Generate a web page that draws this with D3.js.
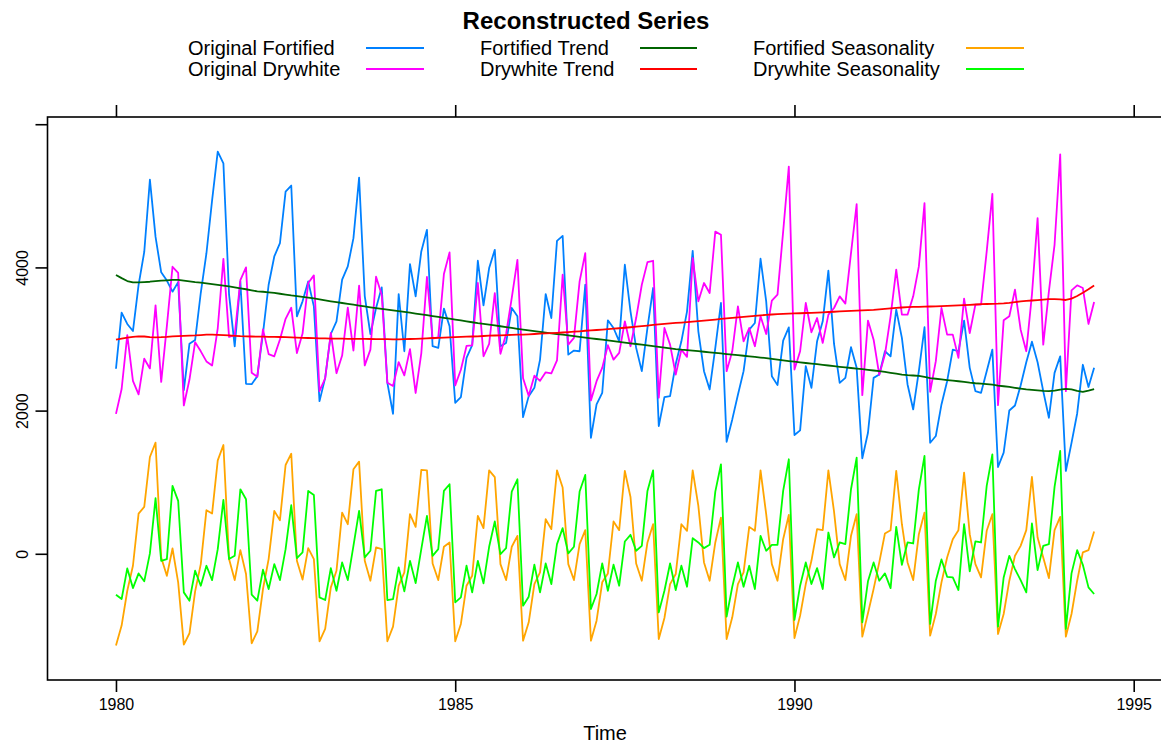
<!DOCTYPE html>
<html><head><meta charset="utf-8">
<script src="https://cdn.jsdelivr.net/npm/d3@7"></script>
<style>
body{margin:0;background:#fff}
svg{display:block}
text{font-family:"Liberation Sans",Arial,Helvetica,sans-serif;fill:#000}
</style>
</head><body>
<svg id="chart" width="1161" height="744"></svg>
<script>
// ---------------- data ----------------
const startYear = 1980;            // Jan 1980, monthly
const title = "Reconstructed Series";
const xLabel = "Time";
const xTickValues = [1980, 1985, 1990, 1995];
const yTickValues = [0, 2000, 4000, 6000];
const yTickLabels = ["0", "2000", "4000", ""];

const fortified = [
 2585,3368,3210,3111,3756,4216,5225,4426,3932,3816,3661,3795,
 2285,2934,2985,3646,4198,4935,5618,5454,3624,2898,3802,2374,
 2369,2481,3079,3758,4153,4339,5059,5143,3317,3526,3805,3456,
 2132,2457,3070,3247,3828,4014,4409,5254,3600,3070,3433,3721,
 2388,1956,3628,2829,4046,3596,4223,4525,2899,2876,3424,3178,
 2109,2188,2736,2913,4093,3470,3991,4246,2899,2945,3433,3317,
 1909,2202,2318,2713,3628,3293,4371,4441,2782,2838,2829,3758,
 1621,2086,2249,3261,3154,2968,4037,3387,2876,2551,3154,3712,
 1784,2188,2202,2650,2968,3387,4232,3108,2551,2295,2876,3503,
 1565,1877,2221,2551,3131,3224,4121,3526,2481,2356,2977,3163,
 1659,1724,2621,2318,2968,3247,3954,2931,2388,2457,2885,2597,
 1334,1691,2457,2504,2829,2758,3410,3015,2365,2016,2551,3164,
 1551,1645,2086,2411,2852,2829,3257,2597,2272,2249,2551,2852,
 1212,1412,2002,2071,2350,2675,2963,2675,2272,1900,2527,2758,
 1157,1550,1960,2640,2330,2597
];
const drywhite = [
 1954,2302,3054,2414,2226,2725,2589,3470,2400,3180,4009,3924,
 2072,2434,2956,2828,2687,2629,3150,4119,3030,3055,3821,4001,
 2529,2472,3134,2789,2758,2993,3282,3437,2804,3076,3782,3889,
 2271,2452,3084,2522,2769,3438,2839,3746,2632,2851,3871,3618,
 2389,2344,2678,2492,2858,2246,2800,3869,3007,3023,3907,4209,
 2353,2570,2903,2910,3782,2759,2931,3641,2794,3070,3576,4106,
 2452,2206,2488,2416,2534,2521,2700,3898,2922,3015,3805,4200,
 2142,2411,2597,2913,2713,2806,3247,2899,3293,3758,4074,4093,
 2179,3154,2922,2504,2850,2750,4130,3526,3782,3642,4500,4455,
 2551,2829,3456,2968,3154,2899,3317,3070,3535,3619,4500,5408,
 2574,2829,3503,3094,3293,2945,3340,3433,3596,3494,4200,4883,
 2216,3257,2991,2500,2782,3317,3968,3340,3340,3596,4014,4897,
 2262,2690,3433,3061,3061,2736,3563,3084,3480,3480,4223,5027,
 2076,3261,3317,3689,3131,2829,3619,4688,2922,3666,4316,5580,
 2272,3680,3750,3712,3210,3517
];
const fortifiedTrend = [
 3895,3850,3810,3790,3790,3795,3800,3808,3814,3820,3825,3825,
 3815,3805,3795,3787,3778,3768,3757,3746,3735,3722,3708,3695,
 3680,3666,3660,3652,3643,3632,3620,3608,3598,3588,3578,3566,
 3553,3540,3527,3515,3503,3491,3479,3467,3455,3443,3432,3421,
 3410,3399,3388,3378,3367,3356,3344,3332,3320,3308,3296,3284,
 3272,3259,3246,3234,3222,3212,3202,3190,3178,3166,3154,3142,
 3131,3120,3110,3100,3090,3080,3070,3060,3050,3040,3030,3020,
 3010,3000,2990,2980,2970,2960,2950,2940,2930,2920,2910,2900,
 2890,2880,2870,2860,2852,2846,2838,2830,2822,2814,2806,2798,
 2790,2782,2774,2766,2758,2750,2741,2732,2722,2712,2702,2692,
 2683,2674,2665,2657,2648,2639,2630,2621,2612,2604,2595,2587,
 2578,2569,2560,2551,2540,2528,2515,2503,2495,2490,2485,2470,
 2455,2445,2436,2427,2419,2410,2400,2390,2382,2376,2370,2362,
 2350,2340,2330,2318,2307,2296,2289,2282,2275,2272,2280,2292,
 2303,2296,2275,2262,2280,2300
];
const drywhiteTrend = [
 2990,3005,3018,3030,3038,3035,3027,3024,3026,3030,3036,3040,
 3044,3047,3050,3055,3060,3061,3058,3054,3050,3045,3040,3037,
 3035,3034,3032,3030,3029,3028,3026,3024,3020,3016,3014,3012,
 3010,3008,3006,3005,3004,3003,3002,3001,3001,3000,2999,2998,
 2997,2996,2996,2998,3000,3003,3006,3010,3014,3017,3020,3023,
 3026,3029,3032,3035,3038,3042,3046,3049,3052,3055,3058,3060,
 3062,3066,3070,3074,3078,3082,3086,3091,3096,3102,3108,3115,
 3120,3126,3132,3138,3144,3150,3157,3164,3172,3180,3188,3196,
 3204,3211,3218,3224,3230,3236,3243,3250,3257,3265,3272,3280,
 3288,3296,3303,3310,3317,3324,3330,3336,3342,3347,3351,3354,
 3357,3360,3363,3366,3369,3373,3377,3381,3385,3389,3393,3397,
 3400,3404,3408,3414,3420,3427,3434,3440,3445,3448,3450,3452,
 3454,3456,3459,3462,3465,3469,3473,3478,3482,3486,3489,3492,
 3494,3498,3505,3515,3525,3532,3538,3544,3550,3556,3558,3554,
 3545,3565,3600,3645,3695,3748
];
const fortifiedSeasonality = [
 -1280,-1003,-516,-167,562,655,1352,1552,-51,-307,74,-399,
 -1268,-1110,-525,-144,609,562,1305,1519,-74,-367,51,-283,
 -1250,-1083,-492,-74,599,469,1240,1398,-98,-360,80,-74,
 -1222,-1050,-469,-237,576,413,1180,1287,-98,-376,88,65,
 -1222,-1017,-446,-260,553,376,1171,1166,-135,-367,98,158,
 -1222,-980,-446,-307,530,358,1166,1070,-144,-367,98,251,
 -1213,-957,-423,-260,483,344,1166,925,-144,-367,135,330,
 -1213,-934,-399,-274,451,330,1157,794,-135,-376,158,413,
 -1190,-897,-423,-283,413,321,1166,669,-121,-376,158,506,
 -1190,-887,-423,-260,376,321,1166,553,-144,-376,204,544,
 -1176,-864,-423,-98,344,330,1166,590,-144,-367,251,553,
 -1157,-831,-490,-120,283,330,1157,413,-121,-367,274,576,
 -1143,-841,-399,-51,204,330,1134,274,-144,-330,321,553,
 -1120,-841,-376,-28,111,330,1073,228,-51,-339,330,516,
 -1157,-841,-376,19,51,311
];
const drywhiteSeasonality = [
 -571,-632,-204,-479,-274,-385,5,776,-98,-74,948,739,
 -539,-655,-237,-446,-167,-367,65,753,-74,-28,901,762,
 -571,-655,-223,-492,-144,-367,65,678,-60,19,878,822,
 -609,-646,-200,-516,-121,-367,111,599,-51,42,878,901,
 -646,-632,-190,-525,-98,-409,65,530,-28,65,878,971,
 -678,-609,-167,-539,-98,-413,98,451,-5,79,869,1041,
 -725,-599,-153,-539,-135,-423,135,358,5,98,869,1101,
 -771,-562,-135,-516,-153,-446,172,265,42,111,878,1166,
 -818,-516,-135,-506,-167,-460,218,158,79,125,869,1250,
 -878,-460,-121,-460,-167,-492,251,42,125,125,878,1320,
 -924,-446,-121,-423,-200,-492,297,-51,158,135,901,1343,
 -957,-385,-121,-376,-274,-479,376,-153,158,144,901,1366,
 -980,-376,-79,-321,-330,-506,413,-246,172,158,948,1389,
 -1017,-330,-28,-214,-367,-539,423,-228,111,135,934,1436,
 -1050,-274,51,-153,-469,-562
];
const seriesNames = ["Original Fortified","Original Drywhite","Fortified Trend",
                     "Drywhite Trend","Fortified Seasonality","Drywhite Seasonality"];
const seriesValues = [fortified, drywhite, fortifiedTrend, drywhiteTrend,
                      fortifiedSeasonality, drywhiteSeasonality];

// ---------------- style / layout ----------------
const colors = ["#0080ff","#ff00ff","#006400","#ff0000","#ffa500","#00ff00"];
const W = 1161, H = 744;
const panel = {left: 47.5, right: 1162.6, top: 117, bottom: 680};
const lw = 1.8;

const svg = d3.select("#chart");
svg.append("rect").attr("width", W).attr("height", H).attr("fill", "#fff");

const n = fortified.length;
const times = d3.range(n).map(i => startYear + i / 12);
const xExt = d3.extent(times);
const xPad = 0.07 * (xExt[1] - xExt[0]);
const x = d3.scaleLinear().domain([xExt[0] - xPad, xExt[1] + xPad])
  .range([panel.left, panel.right]);
const allVals = seriesValues.flat();
const yExt = d3.extent(allVals);
const yPad = 0.07 * (yExt[1] - yExt[0]);
const y = d3.scaleLinear().domain([yExt[0] - yPad, yExt[1] + yPad])
  .range([panel.bottom, panel.top]);

// clip
svg.append("clipPath").attr("id","clip").append("rect")
  .attr("x", panel.left).attr("y", panel.top)
  .attr("width", panel.right - panel.left).attr("height", panel.bottom - panel.top);

// lines
const line = d3.line().x((d, i) => x(times[i])).y(d => y(d));
const g = svg.append("g").attr("clip-path", "url(#clip)");
seriesValues.forEach((vals, k) => {
  g.append("path").datum(vals).attr("d", line)
    .attr("fill", "none").attr("stroke", colors[k])
    .attr("stroke-width", lw).attr("stroke-linejoin", "round");
});

// panel box
svg.append("rect").attr("x", panel.left).attr("y", panel.top)
  .attr("width", panel.right - panel.left).attr("height", panel.bottom - panel.top)
  .attr("fill", "none").attr("stroke", "#000").attr("stroke-width", 1.6);

// axes
const tickLen = 12;
const xAxisB = d3.axisBottom(x).tickValues(xTickValues).tickSize(tickLen)
  .tickPadding(7).tickFormat(d3.format("d"));
const gb = svg.append("g").attr("transform", `translate(0,${panel.bottom})`).call(xAxisB);
const xAxisT = d3.axisTop(x).tickValues(xTickValues).tickSize(tickLen).tickFormat("");
const gt = svg.append("g").attr("transform", `translate(0,${panel.top})`).call(xAxisT);
const yAxis = d3.axisLeft(y).tickValues(yTickValues).tickSize(tickLen)
  .tickFormat((d, i) => yTickLabels[i]);
const gl = svg.append("g").attr("transform", `translate(${panel.left},0)`).call(yAxis);
[gb, gt, gl].forEach(a => {
  a.select(".domain").remove();
  a.selectAll(".tick line").attr("stroke", "#000").attr("stroke-width", 1.6);
  a.selectAll("text").style("font-size", "16px")
    .style("font-family", '"Liberation Sans",Arial,sans-serif').attr("fill", "#000");
});
gl.selectAll(".tick text")
  .attr("x", null).attr("dy", null)
  .attr("text-anchor", "middle")
  .attr("transform", "translate(-20,0) rotate(-90)")
  .attr("y", 0);

// title
svg.append("text").attr("x", 586).attr("y", 28.5).attr("text-anchor", "middle")
  .style("font-size", "24px").style("font-weight", "bold").text(title);

// legend
const legCols = [{tx: 188, l1: 366, l2: 424}, {tx: 480, l1: 640, l2: 697}, {tx: 753, l1: 966, l2: 1024}];
const legRows = [48, 69];
seriesNames.forEach((name, k) => {
  const c = legCols[Math.floor(k / 2)], ry = legRows[k % 2];
  svg.append("text").attr("x", c.tx).attr("y", ry + 7)
    .style("font-size", "20px").text(name);
  svg.append("line").attr("x1", c.l1).attr("x2", c.l2).attr("y1", ry).attr("y2", ry)
    .attr("stroke", colors[k]).attr("stroke-width", lw);
});

// x label
svg.append("text").attr("x", (panel.left + panel.right) / 2).attr("y", 740)
  .attr("text-anchor", "middle").style("font-size", "20px").text(xLabel);
</script>
</body></html>
